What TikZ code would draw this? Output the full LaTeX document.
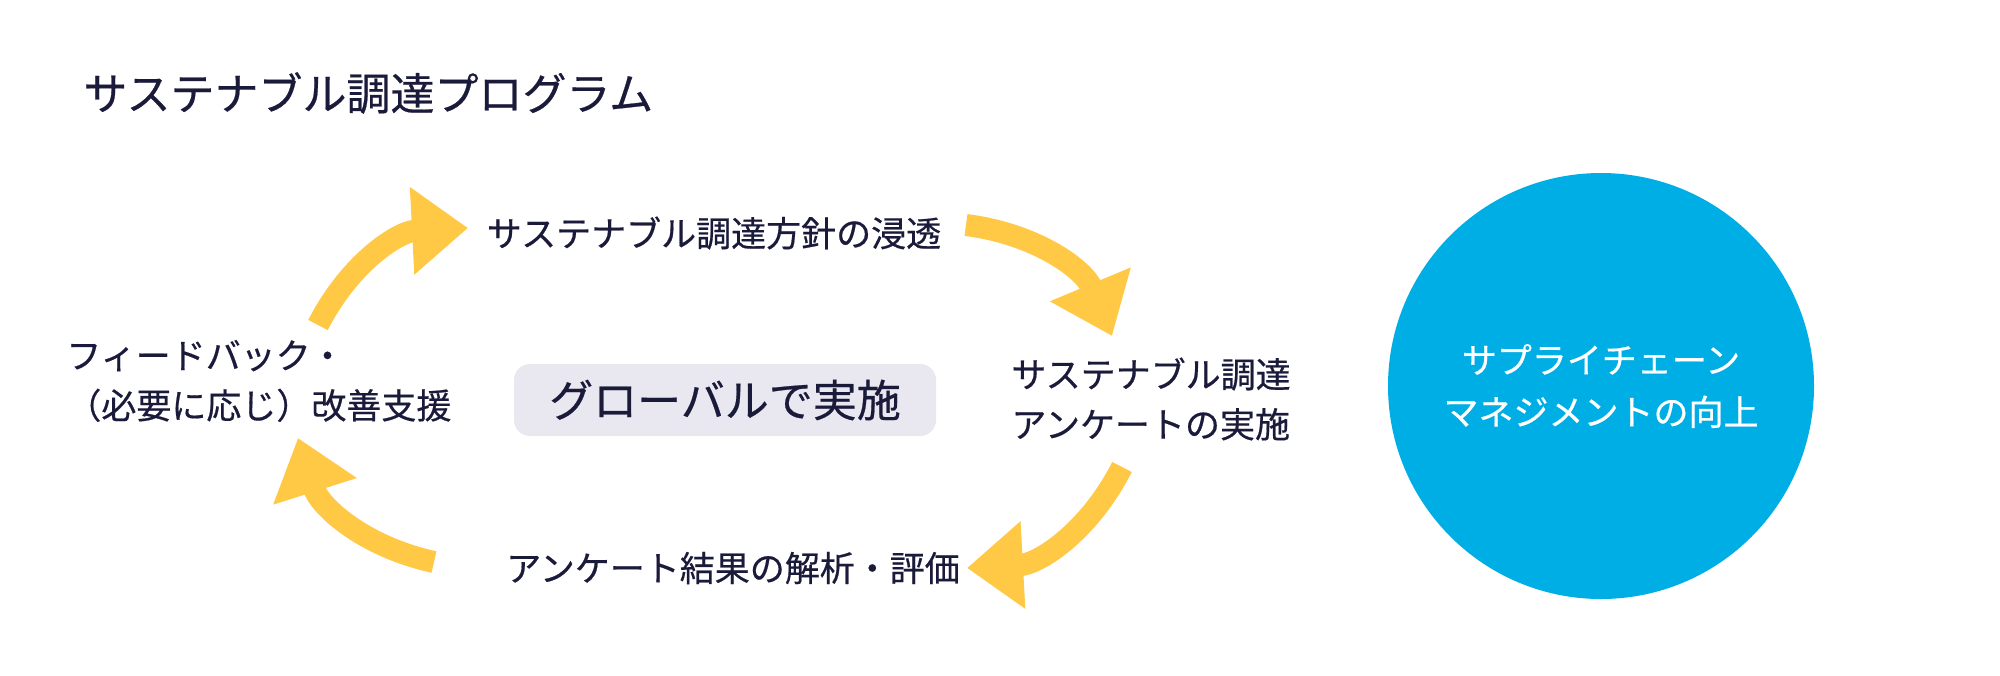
\documentclass[tikz,border=0pt]{standalone}
\usepackage{fontspec}
\setmainfont[FakeBold=0.5]{Noto Sans CJK JP}
\usetikzlibrary{arrows.meta,positioning}
\definecolor{ink}{HTML}{1A1A3A}
\definecolor{sunny}{HTML}{FFC845}
\definecolor{sky}{HTML}{00AEE6}
\definecolor{panel}{HTML}{E9E8F0}
\begin{document}
\begin{tikzpicture}[y=-0.5pt,x=0.5pt,
	label/.style={text=ink,font=\fontsize{17.5}{25}\selectfont,inner sep=0pt},
	cycle/.style={draw=sunny,line width=11pt,-{Triangle[length=28pt,width=42pt]}}]
	\useasboundingbox (0,0) rectangle (2000,675);

	% title
	\node[label,anchor=west,font=\fontsize{22}{26}\selectfont] (title) at (83,93) {サステナブル調達プログラム};

	% steps of the cycle
	\node[label] (spread) at (714,233) {サステナブル調達方針の浸透};
	\node[label,align=left,anchor=west] (survey) at (1011,399) {サステナブル調達\\アンケートの実施};
	\node[label] (review) at (733,568) {アンケート結果の解析・評価};
	\node[label,align=left,anchor=west] (support) at (66,381) {フィードバック・\\（必要に応じ）改善支援};

	% centre
	\node[fill=panel,rounded corners=8pt,minimum width=211pt,minimum height=36pt,text=ink,
		font=\fontsize{22}{26}\selectfont] (global) at (725,400) {グローバルで実施};

	% result
	\node[circle,fill=sky,minimum size=213pt,text=white,align=center,
		font=\fontsize{17.5}{26}\selectfont] (scm) at (1601,386) {サプライチェーン\\マネジメントの向上};

	% arrows
	\coordinate (a1) at (318,325); \coordinate (b1) at (468,228);
	\coordinate (a2) at (966,225); \coordinate (b2) at (1112,336);
	\coordinate (a3) at (1122,467); \coordinate (b3) at (967,568);
	\coordinate (a4) at (434,562); \coordinate (b4) at (298,438);
	\draw[cycle] (a1) to[bend left=30] (b1);
	\draw[cycle] (a2) to[bend left=30] (b2);
	\draw[cycle] (a3) to[bend left=30] (b3);
	\draw[cycle] (a4) to[bend left=30] (b4);
\end{tikzpicture}
\end{document}
